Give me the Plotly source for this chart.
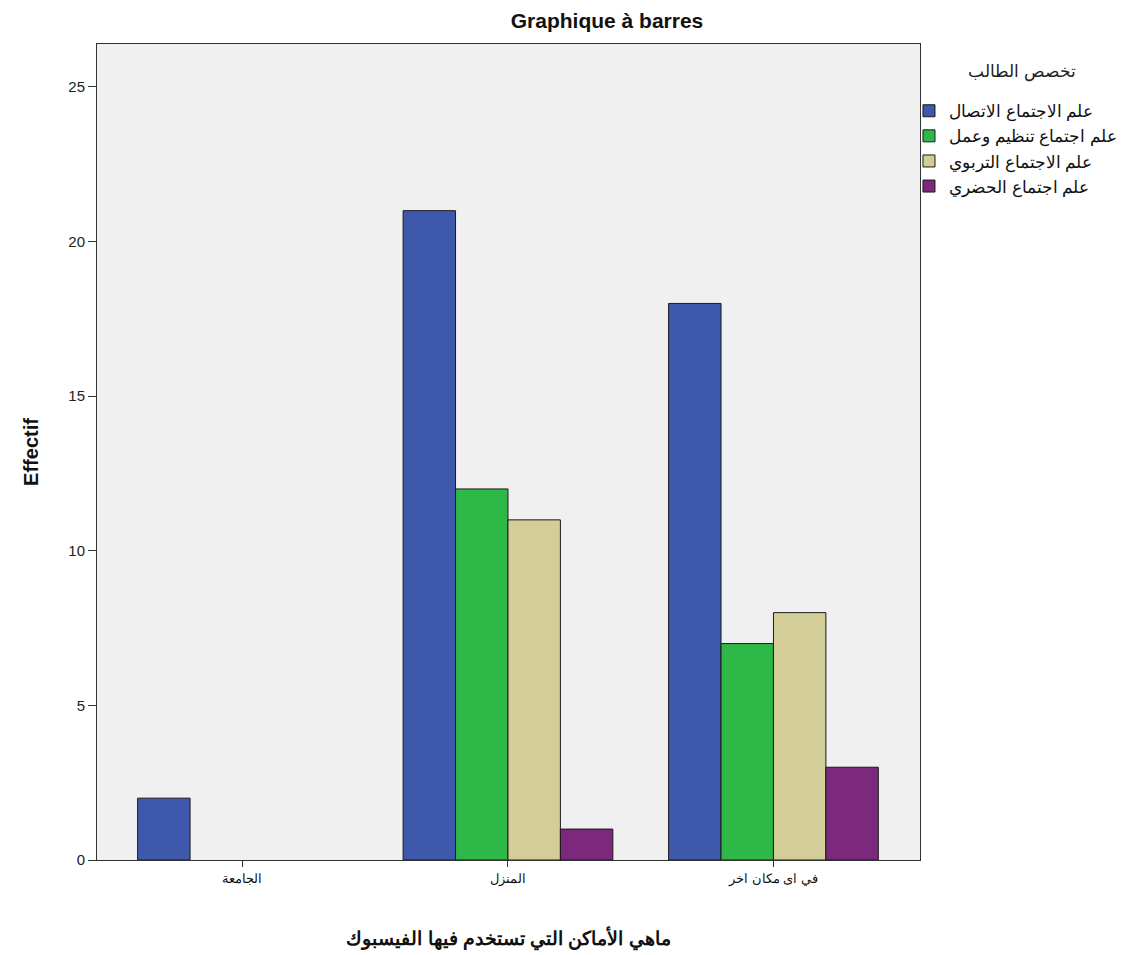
import plotly.graph_objects as go

categories = ["الجامعة", "المنزل", "في اى مكان اخر"]
series_names = [
    "علم الاجتماع الاتصال",
    "علم اجتماع تنظيم وعمل",
    "علم الاجتماع التربوي",
    "علم اجتماع الحضري",
]
legend_title = "تخصص الطالب"
values_communication = [2, 21, 18]
values_organisation = [None, 12, 7]
values_education = [None, 11, 8]
values_urban = [None, 1, 3]
colors = ["#3E58AC", "#2EB848", "#D3CE97", "#7C287D"]

series_values = [values_communication, values_organisation, values_education, values_urban]

fig = go.Figure()
for name, vals, col in zip(series_names, series_values, colors):
    fig.add_trace(go.Bar(
        x=list(range(len(categories))), y=vals, name=name,
        marker=dict(color=col, line=dict(color="#1a1a1a", width=1)),
    ))

fig.add_annotation(
    text=legend_title, xref="paper", yref="paper",
    x=(1022 - 97) / 823, y=(860 - 72) / 816, xanchor="center", yanchor="middle",
    showarrow=False, font=dict(size=17, color="#222"),
)

fig.update_layout(
    width=1127, height=955,
    margin=dict(l=89, r=215, t=36, b=103, autoexpand=False),
    paper_bgcolor="white", plot_bgcolor="#F0F0F0",
    barmode="group", bargap=0.21, bargroupgap=0,
    font=dict(family="Arial, Liberation Sans, sans-serif", color="#222"),
    title=dict(text="<b>Graphique à barres</b>", x=599/1127, xanchor="center",
               y=1 - 13/955, yanchor="middle", font=dict(size=21, color="#111")),
    showlegend=True,
    legend=dict(
        x=0.9866, xanchor="left", y=0.9397, yanchor="top",
        font=dict(size=17, color="#111"), tracegroupgap=0,
        bgcolor="rgba(0,0,0,0)",
    ),
    xaxis=dict(
        tickmode="array", tickvals=list(range(len(categories))), ticktext=categories,
        range=[-0.548, 2.552], ticks="outside", ticklen=6, tickcolor="#333",
        showline=True, linecolor="#333", linewidth=1, mirror=True, showgrid=False,
        tickfont=dict(size=13, color="#111"),
        title=dict(text="<b>ماهي الأماكن التي تستخدم فيها الفيسبوك</b>", standoff=46,
                   font=dict(size=19, color="#111")),
    ),
    yaxis=dict(
        range=[0, 26.39], tickvals=[0, 5, 10, 15, 20, 25], ticks="outside", ticklen=8,
        tickcolor="#333", showline=True, linecolor="#333", linewidth=1, mirror=True,
        showgrid=False, zeroline=False, tickfont=dict(size=15, color="#222"),
        title=dict(text="<b>Effectif</b>", standoff=24, font=dict(size=20, color="#111")),
    ),
)

fig.write_html("out.html")
